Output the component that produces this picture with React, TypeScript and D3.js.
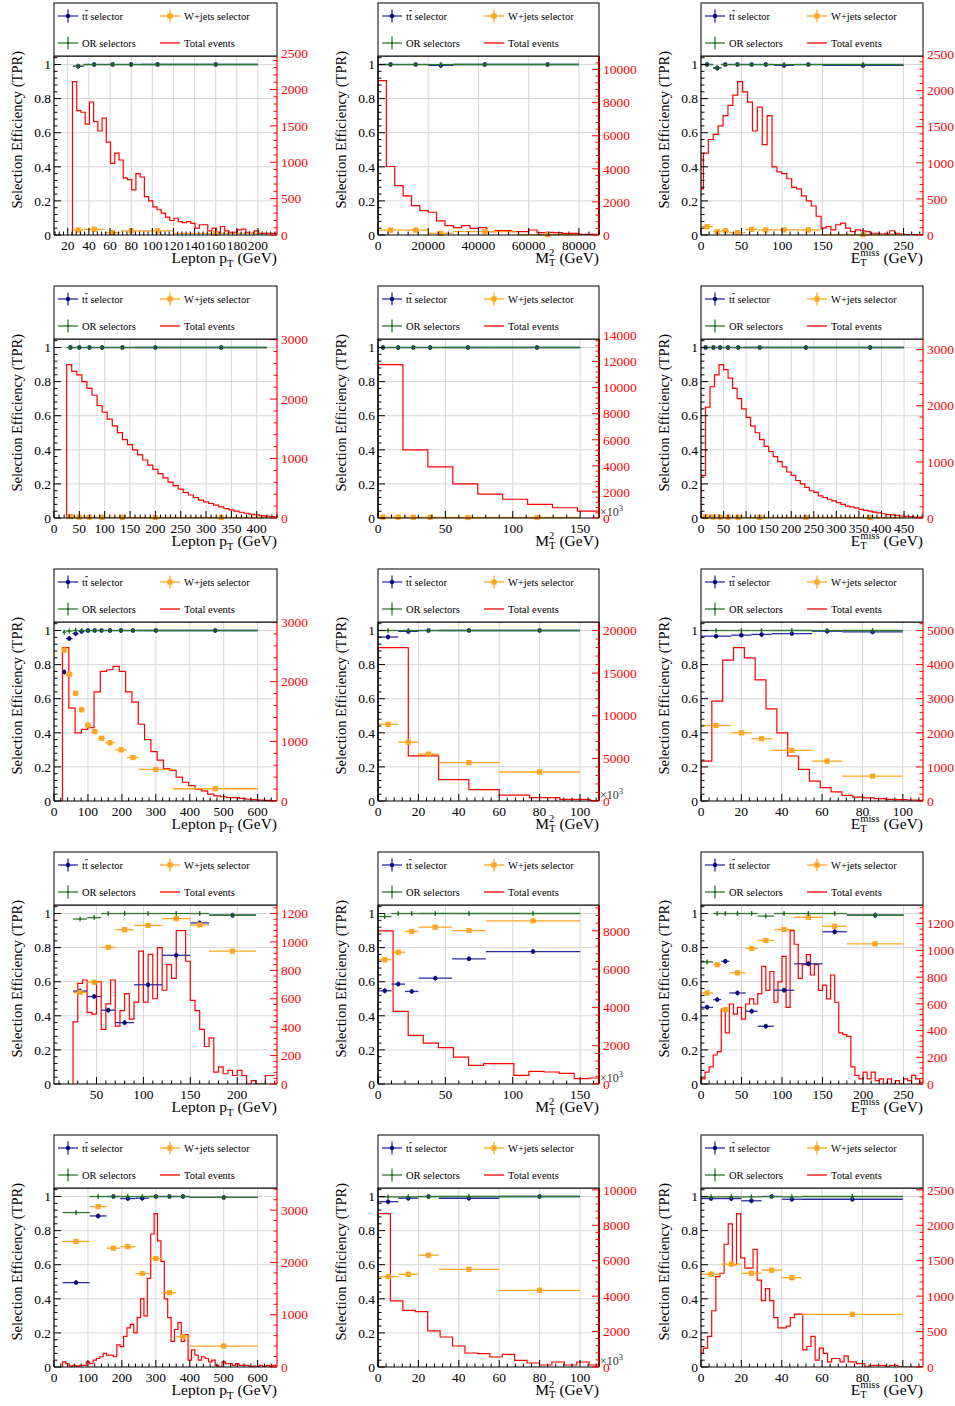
import React, { useEffect, useRef } from 'react';
import * as d3 from 'd3';

// ---------------- data ----------------
// Row 1
const p1Hist = [2109,1710,1687,1523,1828,1558,1429,1605,1277,984,1125,1031,785,761,621,843,797,527,469,387,347,300,246,199,230,183,171,183,159,94,141,141,56,94,37,117,56,37,37,70,80,37,23,56,23,23,23,23,23];
const p1Bins = [25,35,55,70,90,120,200];
const p1TT = [0.99,1,1,1,1,1];
const p1WJ = [0.029,0.033,0.014,0.024,0.024,0.01];
const p1OR = [0.99,1,1,1,1,1];

const p2Hist = [9333,4141,2990,2363,1778,1475,1374,848,566,444,566,404,444,202,263,263,202,202,303,141,162,141,101,101,40,40,40];
const p2Bins = [0,10000,20000,30000,55000,80000];
const p2TT = [1,1,0.995,1,1];
const p2WJ = [0.029,0.029,0.01,0.02,0.002];
const p2OR = [1,1,1,1,1];

const p3Hist = [638,1134,1323,1394,1512,1653,1795,1937,2126,1984,1842,1441,1772,1252,1653,945,874,850,779,661,638,543,472,402,260,94,118,71,142,165,94,47,71,59,47,24,24,12,24,59,24,12,5,5,5,5];
const p3Bins = [0,15,25,35,55,70,90,115,150,250];
const p3TT = [1,0.98,1,1,1,1,0.995,1,0.995];
const p3WJ = [0.049,0.02,0.025,0.014,0.033,0.03,0.03,0.03,0.002];
const p3OR = [1,0.98,1,1,1,1,1,1,1];

// Row 2
const p4Hist = [2580,2466,2408,2294,2179,2064,1892,1778,1663,1548,1434,1319,1233,1147,1061,975,889,817,745,674,602,545,487,430,387,344,301,272,244,215,186,158,138,115,97,80,63,52,40,32,23,17];
const p4Bins = [25,40,60,80,110,160,240,420];
const p4TT = [1,1,1,1,1,1,1];
const p4WJ = [0.008,0.005,0.005,0.004,0.004,0.003,0.003];
const p4OR = [1,1,1,1,1,1,1];

const p5Hist = [11768,5230,3923,2615,1831,1438,1046,785,523];
const p5Bins = [0,7.5,22.5,30,47.5,86,150];
const p5TT = [1,1,1,1,1,1];
const p5WJ = [0.005,0.005,0.004,0.004,0.003,0.003];
const p5OR = [1,1,1,1,1,1];

const p6Hist = [760,1975,2339,2552,2734,2643,2491,2309,2127,1944,1792,1641,1519,1397,1276,1185,1094,1003,911,820,760,668,608,547,486,456,395,365,334,304,273,243,213,197,182,152,137,122,106,91,76,61,55,46,36,30,24,18,15];
const p6Bins = [0,20,35,50,70,95,165,300,450];
const p6TT = [1,1,1,1,1,1,1,1];
const p6WJ = [0.008,0.006,0.005,0.005,0.004,0.004,0.003,0.003];
const p6OR = [1,1,1,1,1,1,1,1];

// Row 3
const p7Hist = [2571,1557,1143,1200,1229,1829,2171,2200,2257,2171,1829,1657,1286,1029,829,686,543,514,400,314,257,200,171,114,86,71,57,57,43,29,23,14,9,6];
const p7Bins = [25,35,55,72.5,90,110,130,150,180,215,250,350,600];
const p7TT = [0.757,0.953,0.982,0.995,1,1,1,1,1,1,1,1];
const p7WJ = [0.885,0.743,0.632,0.535,0.445,0.407,0.368,0.342,0.3,0.255,0.185,0.072];
const p7OR = [0.99,0.997,1,1,1,1,1,1,1,1,1,1];

const p8Hist = [18000,5300,2500,1340,700,400,200,60];
const p8Bins = [0,10,20,30,60,100];
const p8TT = [0.962,0.995,1,1,1];
const p8WJ = [0.45,0.345,0.275,0.225,0.17];
const p8OR = [1,1,1,1,1];

const p9Hist = [1170,2930,4130,4500,4200,3550,2700,2000,1320,930,585,390,265,165,115,90,70,50,40,30,20];
const p9Bins = [0,15,25,35,55,70,100];
const p9TT = [0.967,0.973,0.977,0.982,0.996,0.992];
const p9WJ = [0.443,0.4,0.365,0.297,0.234,0.146];
const p9OR = [1,1,1,1,1,1];

// Row 4
const p10Hist = [437,708,732,504,492,720,384,564,732,408,516,636,456,576,936,576,912,600,960,660,840,744,1080,1080,864,588,516,384,264,324,84,120,72,96,60,96,60,0,24,0,0,60,60];
const p10Bins = [25,40,55,70,90,120,150,170,220];
const p10TT = [0.545,0.513,0.433,0.36,0.582,0.755,0.945,0.99];
const p10WJ = [0.537,0.597,0.802,0.905,0.93,0.97,0.933,0.779];
const p10OR = [0.968,0.976,1,1,1,1,1,0.99];

const p11Hist = [8000,3791,2539,2139,1896,1409,974,1061,1061,452,661,626,556,278,313];
const p11Bins = [0,10,20,30,55,80,150];
const p11TT = [0.547,0.586,0.543,0.621,0.734,0.777];
const p11WJ = [0.729,0.773,0.895,0.92,0.9,0.957];
const p11OR = [0.982,1,1,1,1,1];

const p12Hist = [38,89,128,217,242,561,383,599,523,574,485,599,638,599,676,880,701,842,612,765,956,574,1148,1046,791,893,969,816,893,701,740,638,816,612,383,370,357,128,64,38,89,38,89,26,38,0,38,0,26,0,38,26,64,38,13];
const p12Bins = [0,15,25,35,55,70,90,115,150,180,250];
const p12TT = [0.45,0.495,0.72,0.534,0.427,0.339,0.55,0.705,0.893,0.99];
const p12WJ = [0.534,0.7,0.436,0.652,0.795,0.842,0.906,0.978,0.925,0.822];
const p12OR = [0.716,1,1,1,1,0.985,1,1,1,0.99];

// Row 5
const p13Hist = [98,65,16,33,16,33,33,98,65,130,163,196,261,228,228,196,424,391,587,750,815,652,946,1304,978,1696,2544,2935,2413,2022,1304,946,489,717,848,489,620,130,326,228,130,196,163,98,130,33,0,98,65,65,33,65,33,33,33,0,16,0,33,0,33,16,33];
const p13Bins = [25,105,155,195,240,280,320,360,400,600];
const p13TT = [0.495,0.886,1,0.988,0.99,1,1,1,0.995];
const p13WJ = [0.736,0.941,0.697,0.706,0.548,0.636,0.436,0.178,0.123];
const p13OR = [0.906,1,1,1,1,1,1,1,0.995];

const p14Hist = [8662,3728,3201,3126,2034,1695,1186,791,753,565,716,377,226,113,282,113,282,113];
const p14Bins = [0,10,20,30,60,100];
const p14TT = [0.97,0.99,1,0.99,1];
const p14WJ = [0.53,0.544,0.656,0.573,0.45];
const p14OR = [0.998,0.998,1,1,1];

const p15Hist = [192,265,433,794,1275,1323,1732,2021,1444,2165,1540,1395,1395,1660,1227,938,1107,938,698,553,553,577,698,746,746,241,289,433,96,265,192,72,120,120,72,156,72,72,48,48,0,24,24,24,24,0,24,24,0,0,0,0,0,0];
const p15Bins = [0,10,20,30,40,50,100];
const p15TT = [0.988,0.988,0.975,1,0.984,0.984];
const p15WJ = [0.544,0.603,0.55,0.568,0.524,0.309];
const p15OR = [0.998,0.998,0.998,1,0.998,1];

const legendLabels = ['tt selector', 'W+jets selector', 'OR selectors', 'Total events'];
const yLabels = ['0', '0.2', '0.4', '0.6', '0.8', '1'];

type Kind = 'pt' | 'mt2' | 'met';
interface Panel {
  kind: Kind; xDomain: [number, number]; xStep: number; rightTop: number; rightStep: number;
  histStart: number; histWidth: number; hist: number[]; bins: number[];
  tt: number[]; wj: number[]; or: number[]; exp?: boolean;
}

const panels: Panel[] = [
  { kind: 'pt', xDomain: [7, 218], xStep: 20, rightTop: 2460, rightStep: 500, histStart: 24.5, histWidth: 4, hist: p1Hist, bins: p1Bins, tt: p1TT, wj: p1WJ, or: p1OR },
  { kind: 'mt2', xDomain: [0, 88000], xStep: 20000, rightTop: 10820, rightStep: 2000, histStart: 0, histWidth: 3333, hist: p2Hist, bins: p2Bins, tt: p2TT, wj: p2WJ, or: p2OR },
  { kind: 'met', xDomain: [0, 274], xStep: 50, rightTop: 2480, rightStep: 500, histStart: -3.05, histWidth: 6.05, hist: p3Hist, bins: p3Bins, tt: p3TT, wj: p3WJ, or: p3OR },
  { kind: 'pt', xDomain: [0, 440], xStep: 50, rightTop: 3010, rightStep: 1000, histStart: 25, histWidth: 10, hist: p4Hist, bins: p4Bins, tt: p4TT, wj: p4WJ, or: p4OR },
  { kind: 'mt2', xDomain: [0, 164], xStep: 50, rightTop: 13730, rightStep: 2000, histStart: 0, histWidth: 18.5, hist: p5Hist, bins: p5Bins, tt: p5TT, wj: p5WJ, or: p5OR, exp: true },
  { kind: 'met', xDomain: [0, 492], xStep: 50, rightTop: 3190, rightStep: 1000, histStart: 0, histWidth: 10, hist: p6Hist, bins: p6Bins, tt: p6TT, wj: p6WJ, or: p6OR },
  { kind: 'pt', xDomain: [0, 657], xStep: 100, rightTop: 3000, rightStep: 1000, histStart: 25, histWidth: 18.6, hist: p7Hist, bins: p7Bins, tt: p7TT, wj: p7WJ, or: p7OR },
  { kind: 'mt2', xDomain: [0, 109.4], xStep: 20, rightTop: 21000, rightStep: 5000, histStart: 0, histWidth: 15, hist: p8Hist, bins: p8Bins, tt: p8TT, wj: p8WJ, or: p8OR, exp: true },
  { kind: 'met', xDomain: [0, 110], xStep: 20, rightTop: 5250, rightStep: 1000, histStart: 0, histWidth: 5.37, hist: p9Hist, bins: p9Bins, tt: p9TT, wj: p9WJ, or: p9OR },
  { kind: 'pt', xDomain: [4.7, 242.4], xStep: 50, rightTop: 1260, rightStep: 200, histStart: 25, histWidth: 5, hist: p10Hist, bins: p10Bins, tt: p10TT, wj: p10WJ, or: p10OR },
  { kind: 'mt2', xDomain: [0, 164], xStep: 50, rightTop: 9350, rightStep: 2000, histStart: 0, histWidth: 11.2, hist: p11Hist, bins: p11Bins, tt: p11TT, wj: p11WJ, or: p11OR, exp: true },
  { kind: 'met', xDomain: [0, 274], xStep: 50, rightTop: 1340, rightStep: 200, histStart: 0, histWidth: 5, hist: p12Hist, bins: p12Bins, tt: p12TT, wj: p12WJ, or: p12OR },
  { kind: 'pt', xDomain: [0, 657], xStep: 100, rightTop: 3424, rightStep: 1000, histStart: 25, histWidth: 10, hist: p13Hist, bins: p13Bins, tt: p13TT, wj: p13WJ, or: p13OR },
  { kind: 'mt2', xDomain: [0, 109.4], xStep: 20, rightTop: 10105, rightStep: 2000, histStart: 0, histWidth: 6.15, hist: p14Hist, bins: p14Bins, tt: p14TT, wj: p14WJ, or: p14OR, exp: true },
  { kind: 'met', xDomain: [0, 110], xStep: 20, rightTop: 2526, rightStep: 500, histStart: -0.85, histWidth: 2.05, hist: p15Hist, bins: p15Bins, tt: p15TT, wj: p15WJ, or: p15OR },
];

// ---------------- style ----------------
const FONT = "'Liberation Serif','Times New Roman',Times,serif";
const BLUE = '#2b2ba3';
const BLUE_M = '#0b0b80';
const ORANGE = '#ffa51f';
const GREEN = '#2c7a2c';
const RED = '#ff0000';
const GRID = '#d6d6d6';
const FL = [54, 378, 701];
const FR = [277, 599, 923];

function ticksIn(dom: [number, number], step: number): number[] {
  const a = Math.ceil(dom[0] / step - 1e-9);
  const b = Math.floor(dom[1] / step + 1e-9);
  return d3.range(a, b + 1).map((k) => +(k * step).toFixed(6));
}

type Sel = d3.Selection<any, any, any, any>;

function drawSeries(g: Sel, bins: number[], vals: number[], color: string, marker: 'circle' | 'square' | 'dot',
  x: d3.ScaleLinear<number, number>, y: d3.ScaleLinear<number, number>) {
  const data = vals.map((v, i) => ({ x0: x(bins[i]), x1: x(bins[i + 1]), cy: y(v) }));
  const s = g.append('g');
  s.selectAll('line.h').data(data).join('line').attr('class', 'h')
    .attr('x1', (d) => d.x0).attr('x2', (d) => d.x1).attr('y1', (d) => d.cy).attr('y2', (d) => d.cy)
    .attr('stroke', color).attr('stroke-width', 1.3);
  s.selectAll('line.v').data(data).join('line').attr('class', 'v')
    .attr('x1', (d) => (d.x0 + d.x1) / 2).attr('x2', (d) => (d.x0 + d.x1) / 2)
    .attr('y1', (d) => d.cy - 2.5).attr('y2', (d) => d.cy + 2.5)
    .attr('stroke', color).attr('stroke-width', 1.3);
  if (marker === 'circle') {
    s.selectAll('circle').data(data).join('circle')
      .attr('cx', (d) => (d.x0 + d.x1) / 2).attr('cy', (d) => d.cy).attr('r', 2.2).attr('fill', BLUE_M);
  } else if (marker === 'square') {
    s.selectAll('rect').data(data).join('rect')
      .attr('x', (d) => (d.x0 + d.x1) / 2 - 2.6).attr('y', (d) => d.cy - 2.6).attr('width', 5.2).attr('height', 5.2).attr('fill', ORANGE);
  } else {
    s.selectAll('circle').data(data).join('circle')
      .attr('cx', (d) => (d.x0 + d.x1) / 2).attr('cy', (d) => d.cy).attr('r', 1.1).attr('fill', '#1d5e1d');
  }
}

function xTitle(g: Sel, kind: Kind, xr: number, yb: number) {
  const t = g.append('text').attr('x', xr).attr('y', yb).attr('text-anchor', 'end')
    .attr('font-family', FONT).attr('font-size', 15.5).attr('fill', '#000');
  if (kind === 'pt') {
    t.append('tspan').text('Lepton p');
    t.append('tspan').attr('font-size', 10.5).attr('dy', 3.5).text('T');
    t.append('tspan').attr('dy', -3.5).text(' (GeV)');
  } else if (kind === 'mt2') {
    t.append('tspan').text('M');
    t.append('tspan').attr('font-size', 10.5).attr('dy', -7).text('2');
    t.append('tspan').attr('font-size', 10.5).attr('dx', -5.25).attr('dy', 10).text('T');
    t.append('tspan').attr('dy', -3).text(' (GeV)');
  } else {
    t.append('tspan').text('E');
    t.append('tspan').attr('font-size', 10.5).attr('dy', -7).text('miss');
    t.append('tspan').attr('font-size', 10.5).attr('dx', -19.3).attr('dy', 10).text('T');
    t.append('tspan').attr('dx', 12.9).attr('dy', -3).text(' (GeV)');
  }
}

function drawPanel(root: Sel, p: Panel, idx: number) {
  const row = Math.floor(idx / 3);
  const col = idx % 3;
  const fl = FL[col];
  const fr = FR[col];
  const lt = 3 + 283 * row;
  const top = lt + 53;
  const bot = lt + 232;
  const x = d3.scaleLinear().domain(p.xDomain).range([fl, fr]);
  const y = d3.scaleLinear().domain([0, 1.05]).range([bot, top]);
  const yr = d3.scaleLinear().domain([0, p.rightTop]).range([bot, top]);
  const g = root.append('g');
  const cid = 'clip' + idx;
  g.append('clipPath').attr('id', cid).append('rect')
    .attr('x', fl).attr('y', top).attr('width', fr - fl).attr('height', bot - top);

  // grid
  const xMajor = ticksIn(p.xDomain, p.xStep);
  const xMinor = ticksIn(p.xDomain, p.xStep / 5);
  const yMajor = [0, 0.2, 0.4, 0.6, 0.8, 1.0];
  const yMinor = d3.range(0, 27).map((k) => k * 0.04);
  g.append('g').selectAll('line').data(xMajor.filter((v) => x(v) > fl + 0.5 && x(v) < fr - 0.5)).join('line')
    .attr('x1', (d) => x(d)).attr('x2', (d) => x(d)).attr('y1', top).attr('y2', bot)
    .attr('stroke', GRID).attr('stroke-width', 1);
  g.append('g').selectAll('line').data(yMajor.slice(1)).join('line')
    .attr('x1', fl).attr('x2', fr).attr('y1', (d) => y(d)).attr('y2', (d) => y(d))
    .attr('stroke', GRID).attr('stroke-width', 1);

  // histogram (Total events)
  const pts: [number, number][] = [[p.histStart, 0]];
  p.hist.forEach((v, i) => pts.push([p.histStart + i * p.histWidth, v]));
  pts.push([p.histStart + p.hist.length * p.histWidth, p.hist[p.hist.length - 1]]);
  const line = d3.line<[number, number]>().x((d) => x(d[0])).y((d) => yr(d[1])).curve(d3.curveStepAfter);
  g.append('path').attr('d', line(pts) as string).attr('clip-path', `url(#${cid})`)
    .attr('fill', 'none').attr('stroke', RED).attr('stroke-width', 1.2);

  // efficiency graphs
  drawSeries(g, p.bins, p.tt, BLUE, 'circle', x, y);
  drawSeries(g, p.bins, p.wj, ORANGE, 'square', x, y);
  drawSeries(g, p.bins, p.or, GREEN, 'dot', x, y);

  // frame + axes
  g.append('line').attr('x1', fl).attr('x2', fr).attr('y1', bot).attr('y2', bot).attr('stroke', '#000').attr('stroke-width', 1.2);
  g.append('line').attr('x1', fl).attr('x2', fr).attr('y1', top).attr('y2', top).attr('stroke', '#000').attr('stroke-width', 1);
  g.append('line').attr('x1', fl).attr('x2', fl).attr('y1', top).attr('y2', bot).attr('stroke', '#000').attr('stroke-width', col === 1 ? 1.6 : 1.2);
  g.append('line').attr('x1', fr).attr('x2', fr).attr('y1', top).attr('y2', bot)
    .attr('stroke', col === 1 ? '#990000' : RED).attr('stroke-width', col === 1 ? 2 : 1.2);

  // left ticks
  g.append('g').selectAll('line').data(yMinor).join('line')
    .attr('x1', fl).attr('x2', (d) => (Math.abs(d * 5 - Math.round(d * 5)) < 1e-6 ? fl + 7 : fl + 3.5))
    .attr('y1', (d) => y(d)).attr('y2', (d) => y(d)).attr('stroke', '#000').attr('stroke-width', 1);
  g.append('g').selectAll('text').data(yMajor).join('text')
    .attr('x', fl - 3).attr('y', (d) => y(d)).attr('dy', '0.35em').attr('text-anchor', 'end')
    .attr('font-family', FONT).attr('font-size', 13.5).text((d, i) => yLabels[i]);

  // bottom ticks
  g.append('g').selectAll('line').data(xMinor).join('line')
    .attr('x1', (d) => x(d)).attr('x2', (d) => x(d)).attr('y1', bot)
    .attr('y2', (d) => (xMajor.some((m) => Math.abs(m - d) < 1e-6) ? bot - 7 : bot - 3.5))
    .attr('stroke', '#000').attr('stroke-width', 1);
  g.append('g').selectAll('text').data(xMajor).join('text')
    .attr('x', (d) => x(d)).attr('y', bot + 15).attr('text-anchor', 'middle')
    .attr('font-family', FONT).attr('font-size', 13.5).text((d) => String(Math.round(d)));

  // right axis
  const rMajor = d3.range(0, Math.floor((p.rightTop * 1.035) / p.rightStep) + 1).map((k) => k * p.rightStep);
  const rMinor = d3.range(0, Math.floor(p.rightTop / (p.rightStep / 5)) + 1).map((k) => k * (p.rightStep / 5));
  g.append('g').selectAll('line').data(rMinor).join('line')
    .attr('x1', fr).attr('x2', (d) => (d % p.rightStep === 0 ? fr - 7 : fr - 3.5))
    .attr('y1', (d) => yr(d)).attr('y2', (d) => yr(d)).attr('stroke', RED).attr('stroke-width', 1);
  g.append('g').selectAll('text').data(rMajor).join('text')
    .attr('x', fr + 4).attr('y', (d) => yr(d)).attr('dy', '0.35em').attr('text-anchor', 'start')
    .attr('font-family', FONT).attr('font-size', 13.5).attr('fill', RED).text((d) => String(d));

  if (p.exp) {
    const e = g.append('text').attr('x', fr + 1).attr('y', bot - 2).attr('font-family', FONT)
      .attr('font-size', 12).attr('fill', '#333');
    e.append('tspan').text('×10');
    e.append('tspan').attr('font-size', 8.5).attr('dy', -5).text('3');
  }

  // titles
  g.append('text').attr('transform', `translate(${fl - 32},${top - 5}) rotate(-90)`)
    .attr('text-anchor', 'end').attr('font-family', FONT).attr('font-size', 14.5)
    .text('Selection Efficiency (TPR)');
  xTitle(g, p.kind, fr, bot + 28);

  // legend
  g.append('rect').attr('x', fl).attr('y', lt).attr('width', fr - fl).attr('height', 53)
    .attr('fill', '#fff').attr('stroke', '#000').attr('stroke-width', 1);
  const ent = [
    { mx: fl + 14, my: lt + 13, c: BLUE, m: 'circle' },
    { mx: fl + 116, my: lt + 13, c: ORANGE, m: 'square' },
    { mx: fl + 14, my: lt + 40, c: GREEN, m: 'dot' },
    { mx: fl + 116, my: lt + 40, c: RED, m: 'line' },
  ];
  ent.forEach((en, i) => {
    g.append('line').attr('x1', en.mx - 10).attr('x2', en.mx + 10).attr('y1', en.my).attr('y2', en.my)
      .attr('stroke', en.c).attr('stroke-width', 1.3);
    if (en.m !== 'line') {
      g.append('line').attr('x1', en.mx).attr('x2', en.mx).attr('y1', en.my - 6.5).attr('y2', en.my + 6.5)
        .attr('stroke', en.c).attr('stroke-width', 1.3);
    }
    if (en.m === 'circle') g.append('circle').attr('cx', en.mx).attr('cy', en.my).attr('r', 2.2).attr('fill', BLUE_M);
    if (en.m === 'square') g.append('rect').attr('x', en.mx - 2.6).attr('y', en.my - 2.6).attr('width', 5.2).attr('height', 5.2).attr('fill', ORANGE);
    if (en.m === 'dot') g.append('circle').attr('cx', en.mx).attr('cy', en.my).attr('r', 1.1).attr('fill', '#1d5e1d');
    const tx = en.mx + 14;
    g.append('text').attr('x', tx).attr('y', en.my + 3.5).attr('font-family', FONT).attr('font-size', 10.5)
      .text(legendLabels[i]);
    if (i === 0) {
      g.append('line').attr('x1', tx + 3.1).attr('x2', tx + 5.9).attr('y1', en.my - 5.3).attr('y2', en.my - 5.3)
        .attr('stroke', '#000').attr('stroke-width', 0.8);
    }
  });
}

export default function App() {
  const ref = useRef<SVGSVGElement>(null);
  useEffect(() => {
    const svg = d3.select(ref.current);
    svg.selectAll('*').remove();
    panels.forEach((p, i) => drawPanel(svg as any, p, i));
  }, []);
  return (
    <svg ref={ref} width={955} height={1406}
      style={{ position: 'absolute', left: 0, top: 0, background: '#fff' }} />
  );
}
